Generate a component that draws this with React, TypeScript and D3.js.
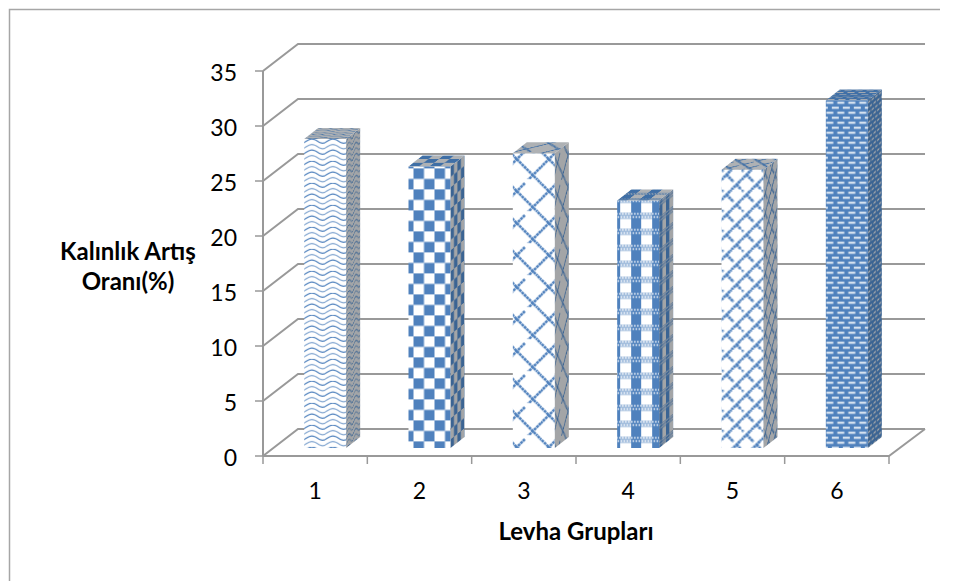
import React from "react";
import * as d3 from "d3";

// Chart data
const categories = ["1", "2", "3", "4", "5", "6"];
const values = [28.1, 25.6, 26.8, 22.5, 25.3, 31.6];
const yTicks = [0, 5, 10, 15, 20, 25, 30, 35];
const patternKinds = ["wave", "check", "trellis", "plaid", "weave", "brick"];
const yTitleLines = ["Kalınlık Artış", "Oranı(%)"];
const xTitle = "Levha Grupları";

const FONT = "Lato, 'Open Sans', sans-serif";
const GRID = "#999999";
const BLUE = "#4f81bd";

// Plot frame and the oblique offset of the back wall
const plot = { left: 263, right: 889, top: 71, bottom: 456 };
const wall = { dx: 35, dy: 27 };
const bar = { width: 42, dx: 14, dy: 11, baseLift: 8, shift: 10 };

const x = d3.scaleBand<string>().domain(categories).range([plot.left, plot.right]);
const y = d3.scaleLinear().domain([0, 35]).range([plot.bottom, plot.top]);

type Ink = { bg: string; fg: string };

// Tile contents for each fill; the same tile is re-used on all three faces of a bar
function tile(kind: string, { bg, fg }: Ink, w: number, h: number) {
  const line = d3.line<[number, number]>();
  switch (kind) {
    case "wave": {
      const curve = d3.line<[number, number]>().curve(d3.curveBasis);
      const rows = d3.range(0, 4).map((r) => {
        const o = r * 5.5 + 2;
        return curve([[-7, o + 2.5], [0, o + 2.5], [5, o - 2], [10.5, o - 2], [16, o + 2.5], [21, o + 2.5], [28, o - 2]]);
      });
      return (
        <g>
          <rect width={w} height={h} fill={bg} />
          {rows.map((d, i) => (
            <path key={i} d={d ?? ""} fill="none" stroke={fg} strokeWidth={1.25} opacity={i % 2 ? 0.7 : 1} />
          ))}
        </g>
      );
    }
    case "check":
      return (
        <g>
          <rect width={w} height={h} fill={bg} />
          <rect width={w / 2} height={h / 2} fill={fg} />
          <rect x={w / 2} y={h / 2} width={w / 2} height={h / 2} fill={fg} />
        </g>
      );
    case "trellis":
      return (
        <g fill="none" stroke={fg} strokeWidth={2.6} strokeDasharray="2.8 0.6">
          <rect width={w} height={h} fill={bg} stroke="none" />
          {/* long strands falling to the right */}
          <path d={line([[-4, 0], [36, 40]]) ?? ""} />
          <path d={line([[-20, 16], [20, 56]]) ?? ""} />
          <path d={line([[12, -16], [52, 24]]) ?? ""} />
          {/* short strands linking them, staggered */}
          <path d={line([[16, 4], [0, 20]]) ?? ""} />
          <path d={line([[32, 20], [16, 36]]) ?? ""} />
          <path d={line([[0, 20], [-8, 28]]) ?? ""} />
          <path d={line([[40, -4], [32, 4]]) ?? ""} />
        </g>
      );
    case "plaid":
      return (
        <g>
          <rect width={w} height={h} fill={bg} />
          <rect width={10} height={h} fill={fg} />
          <rect width={w} height={6.5} fill={fg} opacity={0.55} />
          {d3.range(0, 7).map((i) => (
            <rect key={i} x={i * 3} y={0.6} width={1.5} height={1.5} fill={bg} />
          ))}
          {d3.range(0, 7).map((i) => (
            <rect key={i} x={i * 3 + 1.5} y={3.8} width={1.5} height={1.5} fill={bg} />
          ))}
        </g>
      );
    case "weave":
      return (
        <g fill="none" stroke={fg} strokeWidth={2.8} strokeDasharray="2.6 0.5">
          <rect width={w} height={h} fill={bg} stroke="none" />
          {/* herringbone: long rising strokes with short falling spurs */}
          <path d={line([[0, 10], [10, 0]]) ?? ""} />
          <path d={line([[10, 20], [20, 10]]) ?? ""} />
          <path d={line([[5, 5], [12, 12]]) ?? ""} />
          <path d={line([[15, 15], [22, 22]]) ?? ""} />
          <path d={line([[-5, -5], [2, 2]]) ?? ""} />
        </g>
      );
    default:
      return (
        <g>
          <rect width={w} height={h} fill={fg} />
          <rect x={0.5} y={1.5} width={7} height={1.8} fill={bg} opacity={0.95} />
          <rect x={6} y={6.5} width={7} height={1.8} fill={bg} opacity={0.95} />
          <rect x={-5} y={6.5} width={7} height={1.8} fill={bg} opacity={0.95} />
        </g>
      );
  }
}

const tileSize: Record<string, [number, number]> = {
  wave: [21, 22],
  check: [21, 21],
  trellis: [32, 32],
  plaid: [21, 16],
  weave: [20, 20],
  brick: [11, 10],
};

// Where the tile starts relative to the bar's top-left corner on the front face
const tilePhase: Record<string, [number, number]> = {
  wave: [0, 0],
  check: [5, 2],
  trellis: [-4, -6],
  plaid: [-7, 12],
  weave: [0, 0],
  brick: [0, 0],
};

const faces = [
  { key: "front", ink: () => ({ bg: "#ffffff", fg: BLUE }), transform: (ox: number, oy: number) => `translate(${ox},${oy})` },
  { key: "side", ink: () => ({ bg: "#a3a5a7", fg: "#3b6493" }), transform: (ox: number, oy: number) => `matrix(0.33,-0.26,0,1,${ox},${oy})` },
  { key: "top", ink: () => ({ bg: "#aeb1b4", fg: "#3f6fa6" }), transform: (ox: number, oy: number) => `matrix(1,0,0.45,-0.35,${ox},${oy})` },
];

export default function App() {
  return (
    <svg
      width={960}
      height={581}
      style={{ position: "absolute", left: 0, top: 0, background: "#fff" }}
      fontFamily={FONT}
    >
      <defs>
        {patternKinds.map((kind, i) =>
          faces.map((f) => {
            const [w, h] = tileSize[kind];
            const [px, py] = tilePhase[kind];
            const left = (x(categories[i]) ?? 0) + x.bandwidth() / 2 + bar.shift - bar.width / 2;
            const top = y(values[i]) - bar.baseLift;
            const tf =
              f.key === "front"
                ? f.transform(left + px, top + py)
                : f.transform(f.key === "side" ? left + bar.width : left, top);
            return (
              <pattern
                key={f.key + i}
                id={`${f.key}-${i}`}
                patternUnits="userSpaceOnUse"
                width={w}
                height={h}
                patternTransform={tf}
              >
                {tile(kind, f.ink(), w, h)}
              </pattern>
            );
          })
        )}
      </defs>

      {/* Outer chart frame */}
      <path d="M9.5,581V9.5H940" fill="none" stroke="#a6a6a6" strokeWidth={1.5} />

      {/* Gridlines run along the floor side and across the back wall */}
      {yTicks.map((t) => (
        <path
          key={t}
          d={`M${plot.left},${y(t)}L${plot.left + wall.dx},${y(t) - wall.dy}H${plot.right + wall.dx + 1}`}
          fill="none"
          stroke={GRID}
          strokeWidth={2}
        />
      ))}
      <path
        d={`M${plot.left},${plot.bottom}H${plot.right}L${plot.right + wall.dx + 1},${plot.bottom - wall.dy}`}
        fill="none"
        stroke={GRID}
        strokeWidth={2}
      />
      <line x1={plot.left} x2={plot.left} y1={plot.top} y2={plot.bottom} stroke={GRID} strokeWidth={2} />

      {/* Axis ticks */}
      {yTicks.map((t) => (
        <line key={t} x1={plot.left - 8} x2={plot.left} y1={y(t)} y2={y(t)} stroke={GRID} strokeWidth={1.5} />
      ))}
      {[...categories.map((c) => x(c) ?? 0), plot.right].map((px, i) => (
        <line key={i} x1={px} x2={px} y1={plot.bottom} y2={plot.bottom + 8} stroke={GRID} strokeWidth={1.5} />
      ))}

      {/* Bars */}
      {categories.map((c, i) => {
        const l = (x(c) ?? 0) + x.bandwidth() / 2 + bar.shift - bar.width / 2;
        const r = l + bar.width;
        const top = y(values[i]) - bar.baseLift;
        const base = y(0) - bar.baseLift;
        const { dx, dy } = bar;
        return (
          <g key={c}>
            <path d={`M${l},${top}V${base}H${r}V${top}Z`} fill={`url(#front-${i})`} />
            <path d={`M${r},${top}L${r + dx},${top - dy}V${base - dy}L${r},${base}Z`} fill={`url(#side-${i})`} />
            <path d={`M${l},${top}L${l + dx},${top - dy}H${r + dx}L${r},${top}Z`} fill={`url(#top-${i})`} />
          </g>
        );
      })}

      {/* Tick labels */}
      {yTicks.map((t) => (
        <text key={t} x={237} y={y(t) + 10} textAnchor="end" fontSize={23} fill="#000">
          {t}
        </text>
      ))}
      {categories.map((c) => (
        <text key={c} x={(x(c) ?? 0) + x.bandwidth() / 2} y={499} textAnchor="middle" fontSize={23} fill="#000">
          {c}
        </text>
      ))}

      {/* Axis titles */}
      {yTitleLines.map((t, i) => (
        <text key={t} x={128} y={260 + i * 30} textAnchor="middle" fontSize={24} fontWeight={700} fill="#000">
          {t}
        </text>
      ))}
      <text x={576} y={540} textAnchor="middle" fontSize={24} fontWeight={700} fill="#000">
        {xTitle}
      </text>
    </svg>
  );
}
